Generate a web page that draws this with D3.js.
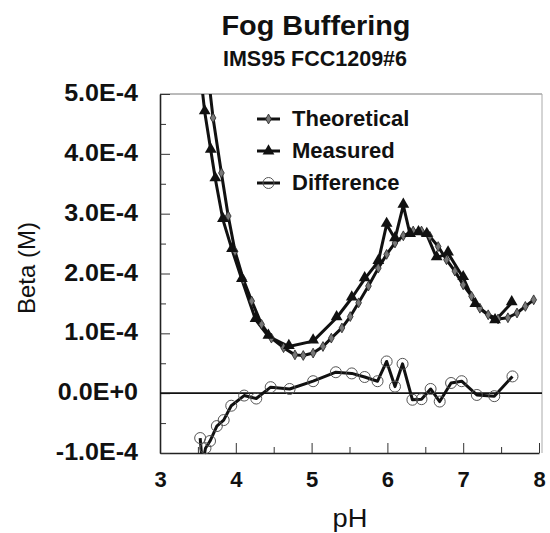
<!DOCTYPE html>
<html><head><meta charset="utf-8">
<script src="https://cdn.jsdelivr.net/npm/d3@7"></script>
<style>
html,body{margin:0;padding:0;background:#fff;}
svg{display:block;font-family:"Liberation Sans",Arial,Helvetica,sans-serif;}
</style></head>
<body><svg id="c" width="550" height="533"></svg>
<script>
// ---- data ----
const theoPH   = [3.60,3.70,3.81,3.90,3.99,4.10,4.21,4.34,4.47,4.63,4.78,4.89,5.02,5.15,5.26,5.40,5.51,5.62,5.75,5.88,5.99,6.10,6.21,6.34,6.45,6.56,6.67,6.78,6.89,7.00,7.11,7.22,7.33,7.46,7.59,7.71,7.82,7.93];
const theoBeta = [5.7,4.60,3.68,2.96,2.37,1.90,1.54,1.15,0.92,0.76,0.64,0.63,0.67,0.78,0.92,1.09,1.28,1.51,1.79,2.09,2.32,2.51,2.63,2.71,2.71,2.62,2.45,2.23,2.04,1.81,1.62,1.42,1.31,1.24,1.26,1.34,1.45,1.56].map(v=>v*1e-4);
const measPH   = [3.52,3.59,3.67,3.73,3.83,3.95,4.08,4.26,4.43,4.70,5.02,5.33,5.53,5.70,5.88,5.99,6.10,6.21,6.30,6.41,6.52,6.65,6.80,7.00,7.16,7.42,7.64];
const measBeta = [5.5,4.70,4.06,3.58,2.90,2.40,1.90,1.23,0.95,0.78,0.87,1.26,1.59,1.91,2.20,2.82,2.58,3.14,2.65,2.68,2.65,2.26,2.34,1.93,1.48,1.21,1.51].map(v=>v*1e-4);
const diffPH   = [3.53,3.56,3.60,3.66,3.75,3.84,3.94,4.11,4.27,4.46,4.71,5.02,5.32,5.53,5.70,5.87,5.99,6.10,6.20,6.33,6.45,6.57,6.69,6.84,6.98,7.18,7.41,7.65];
const diffBeta = [-0.75,-1.2,-0.92,-0.80,-0.55,-0.45,-0.21,-0.04,-0.09,0.10,0.07,0.20,0.35,0.33,0.27,0.20,0.53,0.11,0.49,-0.11,-0.10,0.07,-0.14,0.17,0.20,-0.03,-0.05,0.28].map(v=>v*1e-4);
const xTicks = [3,4,5,6,7,8];
const yTicks = [5e-4,4e-4,3e-4,2e-4,1e-4,0,-1e-4];
const yTickLabels = ["5.0E-4","4.0E-4","3.0E-4","2.0E-4","1.0E-4","0.0E+0","-1.0E-4"];
const seriesNames = ["Theoretical","Measured","Difference"];
const title = "Fog Buffering", subtitle = "IMS95 FCC1209#6";
const xLabel = "pH", yLabel = "Beta (M)";

// ---- layout ----
const L=160, R=539, T=94, B=453;
const x = d3.scaleLinear().domain([3,8]).range([L,R]);
const y = d3.scaleLinear().domain([-1e-4,5e-4]).range([B,T]);
const svg = d3.select("#c");
const SX = 1.09;
function stretch(sel, f){ sel.each(function(){ const w=this.getComputedTextLength(); this.setAttribute("textLength", w*f); this.setAttribute("lengthAdjust","spacingAndGlyphs"); }); }

svg.append("defs").append("clipPath").attr("id","clip").append("rect").attr("x",L).attr("y",T).attr("width",R-L+3).attr("height",B-T);

// box
svg.append("line").attr("x1",L).attr("x2",R+3).attr("y1",T).attr("y2",T).attr("stroke","#777").attr("stroke-width",1);
svg.append("line").attr("x1",R+3).attr("x2",R+3).attr("y1",T).attr("y2",B).attr("stroke","#aaa").attr("stroke-width",1);

// minor ticks
const xMinor = d3.range(3.5,8,1);
const yMinor = d3.range(-0.5e-4,5e-4,1e-4);
svg.append("g").attr("transform",`translate(0,${B})`).call(d3.axisBottom(x).tickValues(xMinor).tickSize(-6).tickFormat("")).call(g=>g.select(".domain").remove()).selectAll("line").attr("stroke","#333");
svg.append("g").attr("transform",`translate(${L},0)`).call(d3.axisLeft(y).tickValues(yMinor).tickSize(-6).tickFormat("")).call(g=>g.select(".domain").remove()).selectAll("line").attr("stroke","#333");

// major axes
const gx = svg.append("g").attr("transform",`translate(0,${B})`)
  .call(d3.axisBottom(x).tickValues(xTicks).tickSizeInner(-10).tickSizeOuter(0).tickPadding(0).tickFormat(d3.format("d")));
gx.select(".domain").attr("stroke","#222").attr("stroke-width",1.6);
gx.selectAll(".tick line").attr("stroke","#333");
gx.selectAll(".tick text").attr("dy",null).attr("y",34).attr("font-size",22).attr("font-weight","bold").attr("fill","#111");

const gy = svg.append("g").attr("transform",`translate(${L},0)`)
  .call(d3.axisLeft(y).tickValues(yTicks).tickSizeInner(-10).tickSizeOuter(0).tickPadding(22).tickFormat((d,i)=>yTickLabels[i]));
gy.select(".domain").attr("stroke","#222").attr("stroke-width",1.6);
gy.selectAll(".tick line").attr("stroke","#333");
gy.selectAll(".tick text").attr("dy",null).attr("y",6.5).attr("font-size",23).attr("font-weight","bold").attr("fill","#111").call(stretch,SX);

// zero line
svg.append("line").attr("x1",L).attr("x2",R+3).attr("y1",y(0)).attr("y2",y(0)).attr("stroke","#111").attr("stroke-width",1.8);

// titles
svg.append("text").attr("x",316).attr("y",35).attr("text-anchor","middle").attr("font-size",28).attr("font-weight","bold").attr("fill","#111").text(title).call(stretch,1.03);
svg.append("text").attr("x",315).attr("y",66).attr("text-anchor","middle").attr("font-size",21.5).attr("font-weight","bold").attr("fill","#111").text(subtitle).call(stretch,1.0);
svg.append("text").attr("x",350).attr("y",527).attr("text-anchor","middle").attr("font-size",25).attr("fill","#111").text(xLabel).call(stretch,SX);
svg.append("text").attr("transform","translate(35,268) rotate(-90)").attr("text-anchor","middle").attr("font-size",24).attr("fill","#111").text(yLabel);

// series
const line = d3.line().x(d=>x(d[0])).y(d=>y(d[1]));
const theo = theoPH.map((p,i)=>[p,theoBeta[i]]);
const meas = measPH.map((p,i)=>[p,measBeta[i]]);
const diff = diffPH.map((p,i)=>[p,diffBeta[i]]);
const plot = svg.append("g").attr("clip-path","url(#clip)");
[theo,meas,diff].forEach(s=>plot.append("path").attr("d",line(s)).attr("fill","none").attr("stroke","#111").attr("stroke-width",3).attr("stroke-linejoin","round"));

const inR = d=>d[1]<=5e-4 && d[1]>=-1e-4;
const diamond = d3.symbol().type(d3.symbolDiamond).size(28);
const tri = d3.symbol().type(d3.symbolTriangle).size(60);
svg.append("g").selectAll("path").data(theo.filter(inR)).join("path").attr("d",diamond()).attr("transform",d=>`translate(${x(d[0])},${y(d[1])})`).attr("fill","#777").attr("stroke","#222").attr("stroke-width",0.8);
svg.append("g").selectAll("path").data(meas.filter(inR)).join("path").attr("d",tri()).attr("transform",d=>`translate(${x(d[0])},${y(d[1])-1})`).attr("fill","#111");
svg.append("g").selectAll("circle").data(diff.filter(inR)).join("circle").attr("cx",d=>x(d[0])).attr("cy",d=>y(d[1])).attr("r",5.5).attr("fill","none").attr("stroke","#555").attr("stroke-width",1);

// legend
const lg = svg.append("g");
const ly = [119,151,183];
seriesNames.forEach((n,i)=>{
  lg.append("line").attr("x1",257).attr("x2",280).attr("y1",ly[i]).attr("y2",ly[i]).attr("stroke","#111").attr("stroke-width",3);
  const m = lg.append("path").attr("transform",`translate(268.5,${ly[i]})`);
  if(i===0) m.attr("d",diamond()).attr("fill","#777").attr("stroke","#222").attr("stroke-width",0.8);
  if(i===1) m.attr("d",tri()).attr("fill","#111");
  if(i===2) m.attr("d",d3.symbol().type(d3.symbolCircle).size(95)()).attr("fill","none").attr("stroke","#555").attr("stroke-width",1);
  lg.append("text").attr("x",292).attr("y",ly[i]+6.5).attr("font-size",22).attr("font-weight","bold").attr("fill","#111").text(n).call(stretch,1.0);
});
</script></body></html>
